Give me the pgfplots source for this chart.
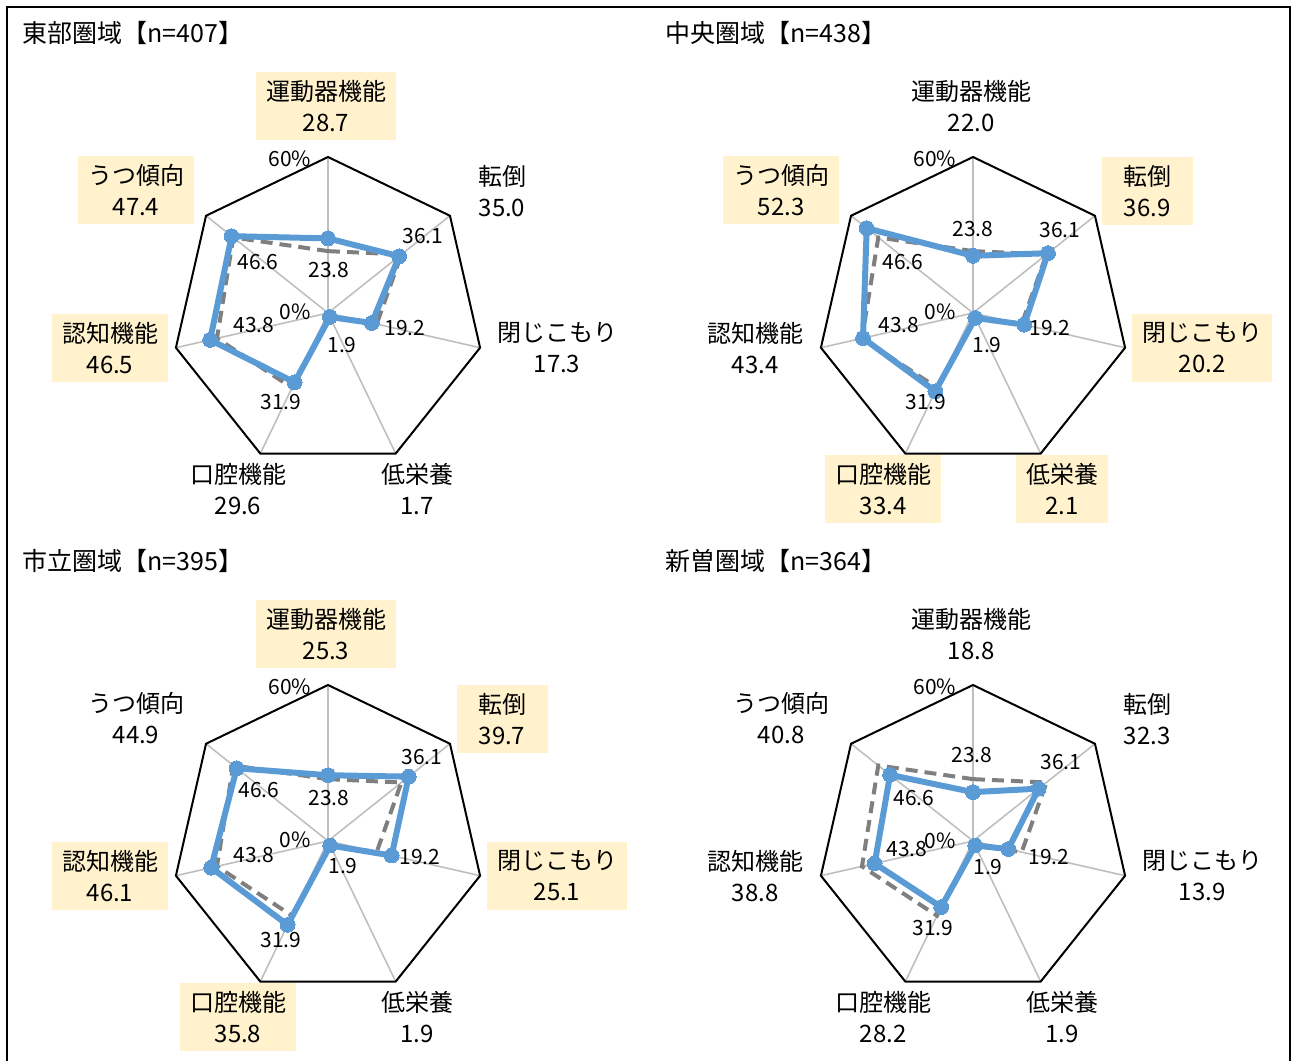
\documentclass[border=0pt]{standalone}
\usepackage{fontspec}
\setmainfont{Noto Sans CJK JP}
\usepackage{pgfplots}
\pgfplotsset{compat=1.18}
\usepackage{pgfplotstable}
\usepgfplotslibrary{polar}

\definecolor{blueline}{HTML}{5B9BD5}
\definecolor{refgray}{HTML}{7F7F7F}
\definecolor{spokegray}{HTML}{BFBFBF}
\definecolor{hl}{HTML}{FFF2CC}

% order: 運動器機能, 転倒, 閉じこもり, 低栄養, 口腔機能, 認知機能, うつ傾向 (first row repeated to close)
\pgfplotstableread{
angle     ref   tobu  chuo  shiritsu niiso
90        23.8  28.7  22.0  25.3     18.8
38.5714   36.1  35.0  36.9  39.7     32.3
-12.8571  19.2  17.3  20.2  25.1     13.9
-64.2857  1.9   1.7   2.1   1.9      1.9
-115.7143 31.9  29.6  33.4  35.8     28.2
-167.1429 43.8  46.5  43.4  46.1     38.8
141.4286  46.6  47.4  52.3  44.9     40.8
90        23.8  28.7  22.0  25.3     18.8
}\radardata

\pgfplotsset{
  radar/.style={hide axis, x=1.3pt, y=1.3pt, xmin=-60, xmax=60, ymin=-60, ymax=60,
    anchor=center, clip=false},
}

\newcommand{\radargrid}{%
  \pgfplotsinvokeforeach{90,38.5714,-12.8571,-64.2857,-115.7143,-167.1429,141.4286}{%
    \addplot[spokegray, line width=0.8pt, data cs=polar, mark=none] coordinates {(##1,0) (##1,60)};}%
  \addplot[black, line width=1pt, data cs=polar, mark=none, line join=miter] coordinates
    {(90,60) (38.5714,60) (-12.8571,60) (-64.2857,60) (-115.7143,60) (-167.1429,60) (141.4286,60) (90,60) (38.5714,60)};%
}
\newcommand{\series}[1]{%
  \addplot[refgray, line width=2pt, dash pattern=on 6pt off 3.5pt, data cs=polar, mark=none]
    table[x=angle, y=ref] {\radardata};
  \addplot[blueline, line width=3pt, data cs=polar, line join=round, mark=*, mark size=3.7pt,
    mark options={solid, fill=blueline, draw=blueline, line width=0pt}]
    table[x=angle, y=#1] {\radardata};
}

\tikzset{
  catnode/.style={align=center, font=\fontsize{12}{15.5}\selectfont, inner xsep=5pt, inner ysep=0pt,
    minimum height=34pt, minimum width=45.5pt},
  hlbox/.style={fill=hl},
  dl/.style={font=\fontsize{10.5}{12}\selectfont, inner sep=0pt},
  ttl/.style={font=\fontsize{12.5}{14}\selectfont, anchor=west, inner sep=0pt},
}
\newcommand{\cat}[4]{\node[catnode,#4] at (#1) {#2\\#3};}

\begin{document}
\begin{tikzpicture}
% axes (centres in pt: px/2, -py/2)
\begin{axis}[radar, at={(164pt,-156.5pt)}]
  \radargrid
  \series{tobu}
\end{axis}
\begin{axis}[radar, at={(486.5pt,-156.5pt)}]
  \radargrid
  \series{chuo}
\end{axis}
\begin{axis}[radar, at={(164pt,-420.5pt)}]
  \radargrid
  \series{shiritsu}
\end{axis}
\begin{axis}[radar, at={(486.5pt,-420.5pt)}]
  \radargrid
  \series{niiso}
\end{axis}

\begin{scope}[x=0.5pt, y=-0.5pt]
  \path[use as bounding box] (0,0) rectangle (1292,1061);
  \draw[line width=1pt] (7,1070) -- (7,7) -- (1290,7) -- (1290,1070);

  \node[ttl] at (22,33) {東部圏域【n=407】};
  \node[ttl] at (665,33) {中央圏域【n=438】};
  \node[ttl] at (22,561) {市立圏域【n=395】};
  \node[ttl] at (665,561) {新曽圏域【n=364】};

  % Panel 1
  \begin{scope}[shift={(328,313)}]
    \cat{-2,-207}{運動器機能}{28.7}{hlbox}
    \cat{174,-122}{転倒}{35.0}{}
    \cat{229,35}{閉じこもり}{17.3}{}
    \cat{89,176}{低栄養}{1.7}{}
    \cat{-90,176}{口腔機能}{29.6}{}
    \cat{-218,35}{認知機能}{46.5}{hlbox}
    \cat{-192,-123}{うつ傾向}{47.4}{hlbox}
    \node[dl] at (-38,-154) {60\%};
    \node[dl] at (-33,-1) {0\%};
    \node[dl] at (1,-43) {23.8};
    \node[dl] at (95,-77) {36.1};
    \node[dl] at (77,15) {19.2};
    \node[dl] at (14,32) {1.9};
    \node[dl] at (-47,89) {31.9};
    \node[dl] at (-74,12) {43.8};
    \node[dl] at (-70,-51) {46.6};
  \end{scope}

  % Panel 2
  \begin{scope}[shift={(973,313)}]
    \cat{-2,-207}{運動器機能}{22.0}{}
    \cat{174,-122}{転倒}{36.9}{hlbox}
    \cat{229,35}{閉じこもり}{20.2}{hlbox}
    \cat{89,176}{低栄養}{2.1}{hlbox}
    \cat{-90,176}{口腔機能}{33.4}{hlbox}
    \cat{-218,35}{認知機能}{43.4}{}
    \cat{-192,-123}{うつ傾向}{52.3}{hlbox}
    \node[dl] at (-38,-154) {60\%};
    \node[dl] at (-33,-1) {0\%};
    \node[dl] at (0,-84) {23.8};
    \node[dl] at (87,-83) {36.1};
    \node[dl] at (77,15) {19.2};
    \node[dl] at (14,32) {1.9};
    \node[dl] at (-47,89) {31.9};
    \node[dl] at (-74,12) {43.8};
    \node[dl] at (-70,-51) {46.6};
  \end{scope}

  % Panel 3
  \begin{scope}[shift={(328,841)}]
    \cat{-2,-207}{運動器機能}{25.3}{hlbox}
    \cat{174,-122}{転倒}{39.7}{hlbox}
    \cat{229,35}{閉じこもり}{25.1}{hlbox}
    \cat{89,176}{低栄養}{1.9}{}
    \cat{-90,176}{口腔機能}{35.8}{hlbox}
    \cat{-218,35}{認知機能}{46.1}{hlbox}
    \cat{-192,-123}{うつ傾向}{44.9}{}
    \node[dl] at (-38,-154) {60\%};
    \node[dl] at (-33,-1) {0\%};
    \node[dl] at (1,-43) {23.8};
    \node[dl] at (94,-84) {36.1};
    \node[dl] at (92,16) {19.2};
    \node[dl] at (15,25) {1.9};
    \node[dl] at (-47,99) {31.9};
    \node[dl] at (-74,14) {43.8};
    \node[dl] at (-69,-51) {46.6};
  \end{scope}

  % Panel 4
  \begin{scope}[shift={(973,841)}]
    \cat{-2,-207}{運動器機能}{18.8}{}
    \cat{174,-122}{転倒}{32.3}{}
    \cat{229,35}{閉じこもり}{13.9}{}
    \cat{89,176}{低栄養}{1.9}{}
    \cat{-90,176}{口腔機能}{28.2}{}
    \cat{-218,35}{認知機能}{38.8}{}
    \cat{-192,-123}{うつ傾向}{40.8}{}
    \node[dl] at (-38,-154) {60\%};
    \node[dl] at (-33,0) {0\%};
    \node[dl] at (-1,-86) {23.8};
    \node[dl] at (88,-79) {36.1};
    \node[dl] at (76,16) {19.2};
    \node[dl] at (15,26) {1.9};
    \node[dl] at (-40,87) {31.9};
    \node[dl] at (-66,8) {43.8};
    \node[dl] at (-59,-43) {46.6};
  \end{scope}
\end{scope}
\end{tikzpicture}
\end{document}
